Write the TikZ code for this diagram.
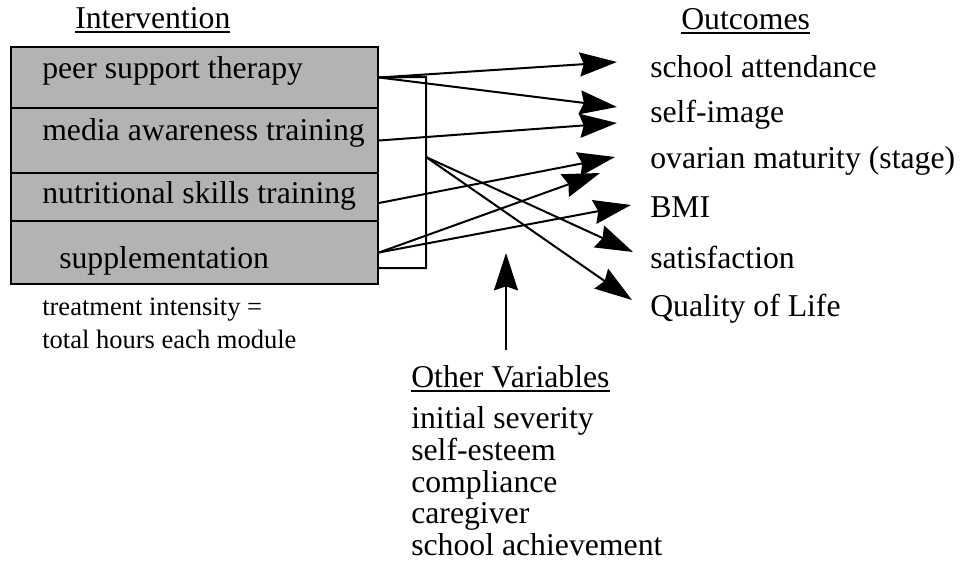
\documentclass[tikz,border=0pt]{standalone}
\usepackage{fontspec}
\setmainfont{Liberation Serif}
\usetikzlibrary{arrows.meta,fit,calc}
\definecolor{modgray}{RGB}{179,179,179}
% underlined heading text
\newcommand\headline[1]{\setbox0\hbox{#1}\rlap{\vrule height -2.6pt depth 3.7pt width \wd0}\box0}
\begin{document}
\begin{tikzpicture}[x=0.75pt,y=-0.75pt,
  txt/.style={anchor=base west, inner sep=0pt, font=\fontsize{23.8pt}{28pt}\selectfont},
  note/.style={anchor=base west, inner sep=0pt, font=\fontsize{19.9pt}{24pt}\selectfont},
  module/.style={draw, line width=1.4pt, fill=modgray, inner sep=0pt},
  link/.style={line width=1.5pt, -{Stealth[length=28pt,width=18pt,inset=3pt]}},
  bracket/.style={line width=1.5pt}]
\useasboundingbox (0,0) rectangle (964,564);

% intervention modules
\node[module, fit={(11,47) (378,108)}] (peer) {};
\node[module, fit={(11,108) (378,173)}] (media) {};
\node[module, fit={(11,173) (378,221)}] (nutr) {};
\node[module, fit={(11,221) (378,284)}] (supp) {};

\node[txt] (inthead) at (75,28) {\headline{Intervention}};
\node[txt] (peertxt) at (42,78) {peer support therapy};
\node[txt] (mediatxt) at (42,140) {media awareness training};
\node[txt] (nutrtxt) at (42,203) {nutritional skills training};
\node[txt] (supptxt) at (59,268) {supplementation};
\node[note] (int1) at (42,315) {treatment intensity =};
\node[note] (int2) at (42,348) {total hours each module};

% outcomes
\node[txt] (outhead) at (681,29) {\headline{Outcomes}};
\node[txt] (school) at (650,77) {school attendance};
\node[txt] (selfimg) at (650,122) {self-image};
\node[txt] (ovarian) at (650,168) {ovarian maturity (stage)};
\node[txt] (bmi) at (650,217) {BMI};
\node[txt] (satis) at (650,268) {satisfaction};
\node[txt] (qol) at (650,316) {Quality of Life};

% other variables
\node[txt] (othhead) at (411,387) {\headline{Other Variables}};
\node[txt] (oth1) at (411,428) {initial severity};
\node[txt] (oth2) at (411,460) {self-esteem};
\node[txt] (oth3) at (411,492) {compliance};
\node[txt] (oth4) at (411,523) {caregiver};
\node[txt] (oth5) at (411,555) {school achievement};

% bracket grouping all modules
\coordinate (brtop) at (426,77);
\coordinate (brbot) at (426,268);
\coordinate (brmid) at (426,157);
\draw[bracket] (peer.east) -- (brtop) -- (brbot) -- (brbot -| supp.east);

% arrow tips
\coordinate (tipA) at (617,62);
\coordinate (tipB) at (617,107);
\coordinate (tipC) at (617,123);
\coordinate (tipD) at (615,157);
\coordinate (tipE) at (600,173);
\coordinate (tipF) at (631,205);
\coordinate (tipG) at (633,252);
\coordinate (tipH) at (632,300);
\coordinate (tipI) at (506,253);
\coordinate (othbase) at (506,350);

\draw[link] (peer.east) -- (tipA);
\draw[link] (peer.east) -- (tipB);
\draw[link] (media.east) -- (tipC);
\draw[link] ($(nutr.east)+(0,6)$) -- (tipD);
\draw[link] (supp.east) -- (tipE);
\draw[link] (supp.east) -- (tipF);
\draw[link] (brmid) -- (tipG);
\draw[link] (brmid) -- (tipH);
\draw[link] (othbase) -- (tipI);
\end{tikzpicture}
\end{document}
